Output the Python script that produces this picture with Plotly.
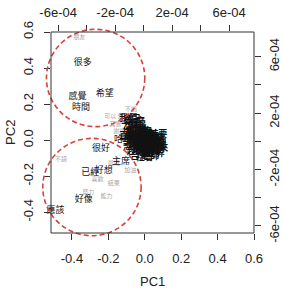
import plotly.graph_objects as go

# ---- data ----
big_words = ["很多", "感覺", "時間", "希望", "很好", "已經", "好想", "好像", "應該", "哈哈", "主席"]
big_pc1 = [-0.34, -0.37, -0.35, -0.22, -0.24, -0.30, -0.225, -0.335, -0.49, -0.12, -0.13]
big_pc2 = [0.43, 0.24, 0.18, 0.26, -0.05, -0.18, -0.17, -0.33, -0.39, 0.0, -0.12]

blob_words = ["我們", "自己", "什麼", "一個", "沒有", "就是", "他們", "這樣", "因為",
              "所以", "真的", "現在", "大家", "覺得", "一起", "還是", "今天",
              "開心", "工作", "生活", "事情", "問題", "需要", "一直", "然後", "如果",
              "不是", "出來", "起來", "東西", "地方", "時候", "世界", "台灣", "社會",
              "老師", "學校", "媽媽", "爸爸", "孩子", "家人", "心情", "感謝", "快樂",
              "未來", "夢想", "努力過", "比較", "一定", "應該要", "當然", "或許", "只是",
              "已經是", "正在", "看到", "聽到", "想要"]
blob_pc1 = [-0.09, -0.07, -0.05, -0.08, -0.06, -0.04,
            -0.07, -0.04, -0.01,
            0.02, -0.09, -0.06, -0.03, 0.00, 0.03, 0.06,
            -0.08, -0.05, -0.02, 0.01, 0.04, 0.07,
            -0.07, -0.04, -0.01, 0.02, 0.05, 0.08,
            -0.05, -0.02, 0.01, 0.04, 0.06,
            -0.03, 0.00, 0.03,
            -0.05, -0.02, 0.01, 0.04, 0.07, -0.03, 0.00, 0.03, 0.05,
            -0.06, -0.03, 0.00, 0.02, 0.05, -0.04, -0.01, 0.02, 0.04,
            -0.02, 0.01, 0.03, 0.06]
blob_pc2 = [0.12, 0.115, 0.10, 0.085, 0.075, 0.08,
            0.05, 0.05, 0.045,
            0.035, 0.02, 0.02, 0.025, 0.02, 0.015, 0.01,
            -0.01, -0.01, -0.01, 0.00, -0.01, -0.02,
            -0.035, -0.04, -0.03, -0.04, -0.04, -0.045,
            -0.065, -0.06, -0.07, -0.065, -0.075,
            -0.09, -0.095, -0.09,
            0.00, 0.01, -0.02, 0.00, 0.00, -0.05, -0.05, -0.03, -0.06,
            0.03, 0.04, 0.03, 0.02, 0.03, -0.02, -0.015, -0.05, -0.025,
            0.01, -0.03, 0.005, -0.035]

small_words = ["朋友", "可以", "知道", "不過", "其實", "不錯", "喜歡", "努力", "結果", "能力",
               "加油", "最近", "謝謝"]
small_pc1 = [-0.36, -0.19, -0.115, -0.075, -0.16, -0.46, -0.26, -0.31, -0.17, -0.21,
             -0.08, -0.17, -0.14]
small_pc2 = [0.57, 0.13, 0.13, 0.17, 0.085, -0.105, -0.22, -0.29, -0.24, -0.31,
             -0.17, -0.13, 0.05]

circle_cx = [-0.27, -0.29]
circle_cy = [0.345, -0.26]
circle_r = [0.27, 0.27]

pc_range = [-0.515, 0.6]
sec_range = [-6.5e-4, 7.75e-4]
pc_ticks = [-0.4, -0.2, 0.0, 0.2, 0.4, 0.6]
pc_ticktext = ["-0.4", "-0.2", "0.0", "0.2", "0.4", "0.6"]
sec_ticks = [-6e-4, -4e-4, -2e-4, 0.0, 2e-4, 4e-4, 6e-4]
sec_ticktext = ["-6e-04", "", "-2e-04", "", "2e-04", "", "6e-04"]

CJK = "Noto Sans CJK TC"
LAT = "Liberation Sans, Arial, sans-serif"

fig = go.Figure()
fig.add_trace(go.Scatter(x=small_pc1, y=small_pc2, mode="text", text=small_words,
                         textfont=dict(family=CJK, size=6, color="#a8a8a8"),
                         cliponaxis=False, hoverinfo="skip", showlegend=False))
fig.add_trace(go.Scatter(x=blob_pc1, y=blob_pc2, mode="text", text=blob_words,
                         textfont=dict(family=CJK, size=9, color="#111111", weight="bold"),
                         cliponaxis=False, hoverinfo="skip", showlegend=False))
fig.add_trace(go.Scatter(x=big_pc1, y=big_pc2, mode="text", text=big_words,
                         textfont=dict(family=CJK, size=9, color="#111111"),
                         cliponaxis=False, hoverinfo="skip", showlegend=False))
# invisible trace to activate secondary axes
fig.add_trace(go.Scatter(x=[0], y=[0], xaxis="x2", yaxis="y2", mode="markers",
                         marker=dict(opacity=0), hoverinfo="skip", showlegend=False))

def to_px(v, r):
    return (v - r[0]) / (r[1] - r[0])

shapes = []
for cx, cy, r in zip(circle_cx, circle_cy, circle_r):
    shapes.append(dict(type="circle", xref="paper", yref="paper",
                       x0=to_px(cx - r, pc_range), x1=to_px(cx + r, pc_range),
                       y0=to_px(cy - r, pc_range), y1=to_px(cy + r, pc_range),
                       line=dict(color="#d6433a", width=1.6, dash="5px,3px")))
shapes.append(dict(type="rect", xref="paper", yref="paper", x0=0, x1=1, y0=0, y1=1,
                   line=dict(color="#333333", width=1)))

axis_common = dict(showgrid=False, zeroline=False, ticks="outside", ticklen=6,
                   tickwidth=1, tickcolor="#333333", showline=False,
                   automargin=False,
                   tickfont=dict(family=LAT, size=13, color="#222222"))

fig.update_layout(
    width=283, height=294,
    margin=dict(l=51, r=29, t=32, b=61, pad=0, autoexpand=False),
    paper_bgcolor="white", plot_bgcolor="white",
    xaxis=dict(range=pc_range, tickvals=pc_ticks, ticktext=pc_ticktext,
               ticklabelstandoff=7, **axis_common),
    yaxis=dict(range=pc_range, tickvals=pc_ticks, ticktext=pc_ticktext, tickangle=-90,
               ticklabelstandoff=6, **axis_common),
    xaxis2=dict(range=sec_range, tickvals=sec_ticks, ticktext=sec_ticktext, overlaying="x",
                side="top", anchor="y", ticklabelstandoff=3, **axis_common),
    yaxis2=dict(range=sec_range, tickvals=sec_ticks, ticktext=sec_ticktext, overlaying="y",
                side="right", anchor="x", tickangle=-90, ticklabelstandoff=2, **axis_common),
    shapes=shapes,
    annotations=[
        dict(text="PC1", xref="paper", yref="paper", x=0.5, y=-0.24, showarrow=False,
             xanchor="center", yanchor="middle", font=dict(family=LAT, size=13, color="#222222")),
        dict(text="PC2", xref="paper", yref="paper", x=-0.2, y=0.5, showarrow=False, textangle=-90,
             xanchor="center", yanchor="middle", font=dict(family=LAT, size=13, color="#222222")),
    ],
)
fig.write_html("out.html")
